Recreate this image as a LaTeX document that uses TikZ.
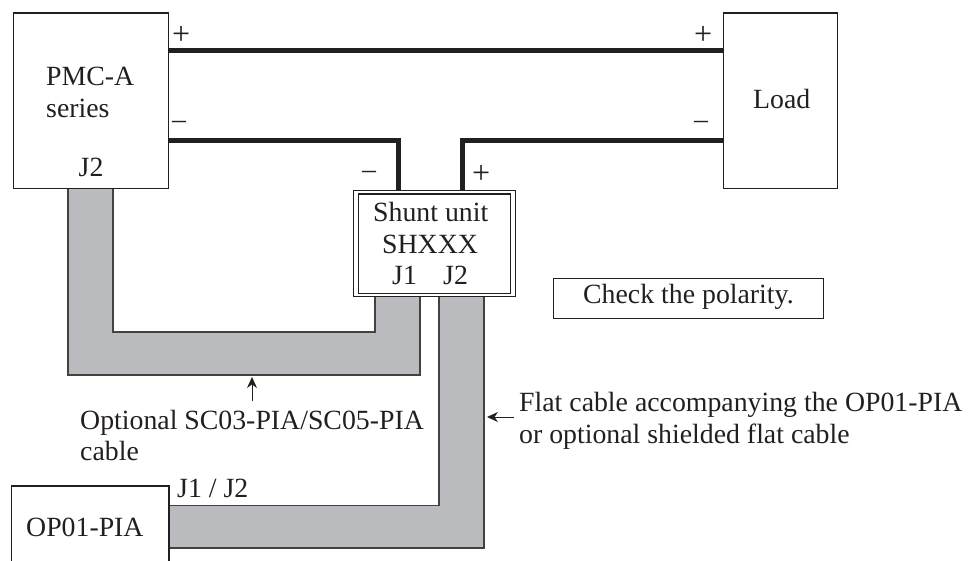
\documentclass[tikz,border=0pt]{standalone}
\usepackage{fontspec}
\setmainfont{Liberation Serif}
\usetikzlibrary{arrows.meta}
\definecolor{cablegray}{RGB}{186,187,191}
\definecolor{ink}{RGB}{35,31,32}
\tikzset{
  x=1pt,y=-1pt,
  box/.style={draw=ink,line width=1.1pt,fill=white,inner sep=0pt,anchor=north west},
  wire/.style={draw=ink,line width=5pt},
  cable/.style={draw=ink!85,line width=1.2pt,fill=cablegray},
  lbl/.style={text=ink,font=\fontsize{27.8}{31}\selectfont,inner sep=0pt,anchor=base west,align=left},
  sign/.style={lbl,font=\fontsize{32}{32}\selectfont},
  pointer/.style={draw=ink,line width=1pt,-{Stealth[length=11pt,width=10pt]}}
}
\begin{document}
\begin{tikzpicture}
\useasboundingbox (0,0) rectangle (975,561);
\coordinate (a1) at (168,51);
\coordinate (a2) at (723,51);
\coordinate (b1) at (168,140.5);
\coordinate (b2) at (398,140.5);
\coordinate (b3) at (398,190);
\coordinate (c1) at (723,140.5);
\coordinate (c2) at (462,140.5);
\coordinate (c3) at (462,190);
\draw[wire] (a1) -- (a2);
\draw[wire] (b1) -- (b2) -- (b3);
\draw[wire] (c1) -- (c2) -- (c3);
\draw[cable] (68,188) -- (113,188) -- (113,332) -- (375,332) -- (375,296) -- (420,296) -- (420,375) -- (68,375) -- cycle;
\draw[cable] (439,296) -- (484,296) -- (484,548) -- (169,548) -- (169,505.5) -- (439,505.5) -- cycle;
\node[box,minimum width=155.5pt,minimum height=175.5pt] (pmc) at (12.5,12.5) {};
\node[box,minimum width=113.5pt,minimum height=175.5pt] (load) at (723,12.5) {};
\node[box,minimum width=162.5pt,minimum height=106pt] (shuntout) at (352.5,190) {};
\node[box,minimum width=152.5pt,minimum height=99.5pt] (shuntin) at (357.5,193.5) {};
\node[box,minimum width=270pt,minimum height=40.5pt] (check) at (553,277.7) {};
\draw[draw=ink,line width=1.1pt,fill=white] (11.5,561) -- (11.5,486) -- (169,486) -- (169,561);
\node[lbl] (t1) at (46,86) {PMC-A};
\node[lbl] (t2) at (46,118) {series};
\node[lbl] (t3) at (78.5,177) {J2};
\node[sign] (t4) at (172,45) {+};
\node[lbl] (t5) at (172,129) {–};
\node[sign] (t6) at (694,45) {+};
\node[lbl] (t7) at (694,129) {–};
\node[lbl] (t8) at (362,179) {–};
\node[sign] (t9) at (472,184) {+};
\node[lbl] (t10) at (753,109) {Load};
\node[lbl] (t11) at (373,222) {Shunt unit};
\node[lbl] (t12) at (382,254) {SHXXX};
\node[lbl] (t13) at (392,285) {J1};
\node[lbl] (t14) at (443,285) {J2};
\node[lbl] (t15) at (583,304) {Check the polarity.};
\node[lbl] (t16) at (80,429) {Optional SC03-PIA/SC05-PIA};
\node[lbl] (t17) at (80,460) {cable};
\node[lbl] (t18) at (177,497) {J1 / J2};
\node[lbl] (t19) at (26,536) {OP01-PIA};
\node[lbl] (t20) at (519,411.5) {Flat cable accompanying the OP01-PIA};
\node[lbl] (t21) at (519,443) {or optional shielded flat cable};
\coordinate (p1) at (252,401);
\coordinate (p2) at (252,377);
\coordinate (p3) at (513.5,417);
\coordinate (p4) at (487,417);
\draw[pointer] (p1) -- (p2);
\draw[pointer] (p3) -- (p4);
\end{tikzpicture}
\end{document}
